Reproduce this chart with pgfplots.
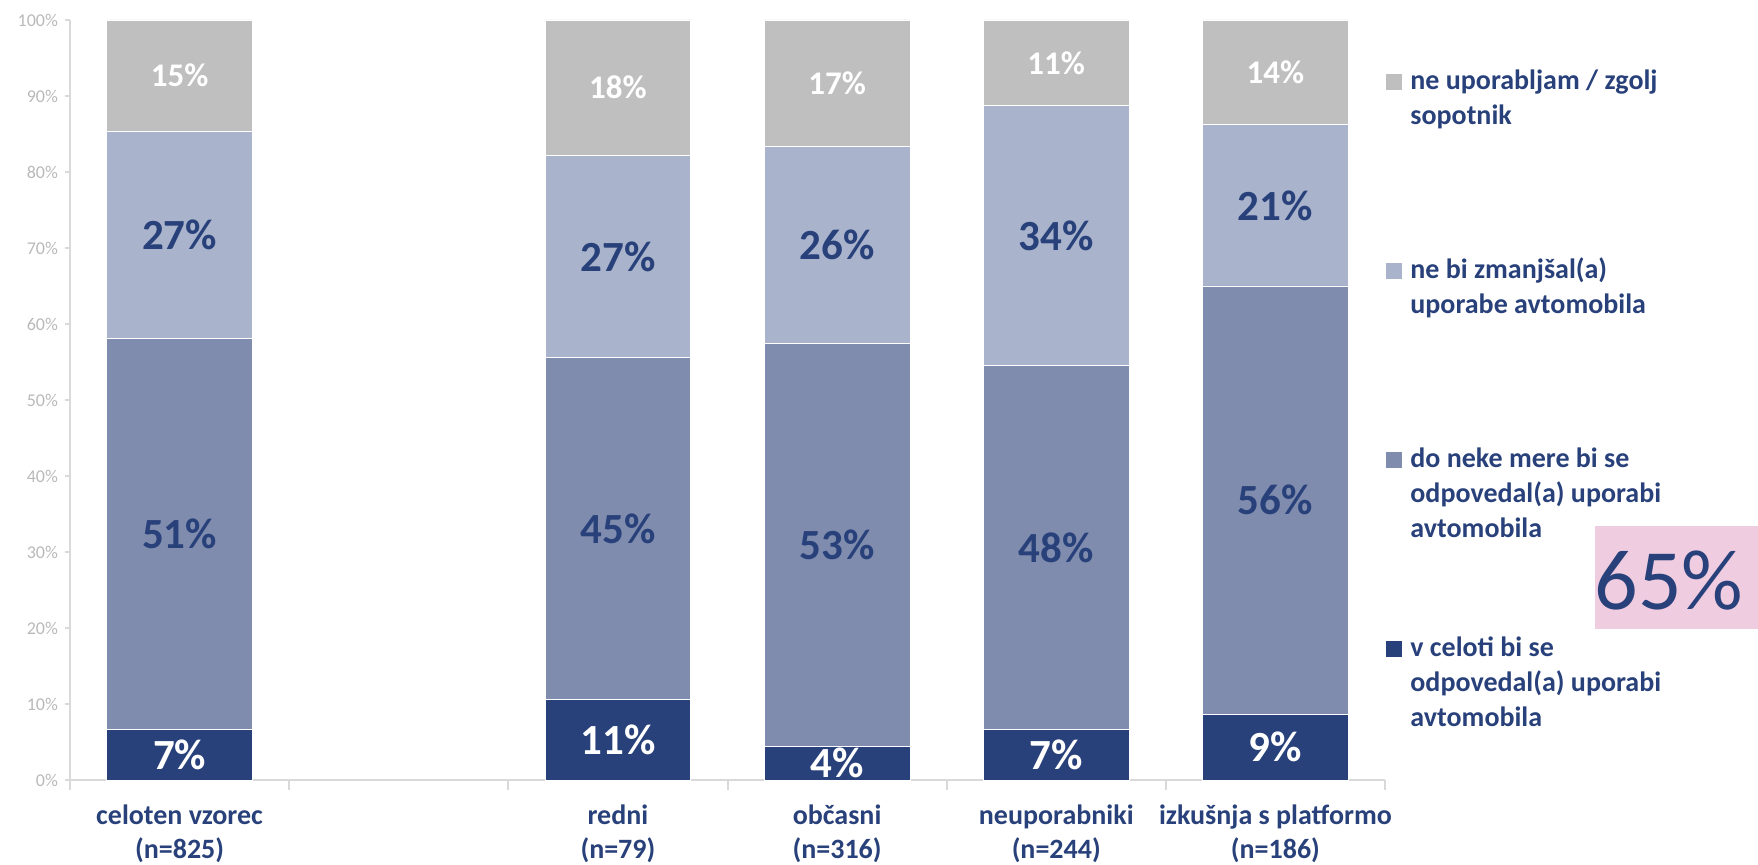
\documentclass[border=0pt]{standalone}
\usepackage{fontspec}
\setmainfont{Carlito}
\usepackage{pgfplots}
\usepackage{pgfplotstable}
\pgfplotsset{compat=1.18}

\definecolor{navy}{RGB}{41,65,122}
\definecolor{midblue}{RGB}{127,140,174}
\definecolor{lightblue}{RGB}{169,179,204}
\definecolor{greyseg}{RGB}{191,191,191}
\definecolor{txtblue}{RGB}{41,65,122}
\definecolor{axisgrey}{RGB}{217,217,217}
\definecolor{tickgrey}{RGB}{185,185,185}
\definecolor{pinkbox}{RGB}{240,204,225}

% percentage labels in the middle of each stacked segment
\pgfplotsset{
  centered labels/.style={
    nodes near coords={\pgfmathprintnumber[fixed,precision=0]{\pgfplotspointmeta}\%},
    every node near coord/.append style={anchor=center, inner sep=0pt},
  },
}

% shares per group, in %
\pgfplotstableread{
x  dark  mid   light grey
0  6.7   51.4  27.3  14.6
2  10.6  45.0  26.6  17.8
3  4.4   53.0  26.0  16.6
4  6.6   47.9  34.2  11.3
5  8.6   56.4  21.2  13.8
}\shares

\begin{document}
\begin{tikzpicture}
\path[use as bounding box] (0,0) rectangle (879bp,432.5bp);
\begin{axis}[
  at={(35bp,42.5bp)}, anchor=south west,
  scale only axis, width=657.5bp, height=380bp,
  ybar stacked, bar width=0.665,
  xmin=-0.5, xmax=5.5, ymin=0, ymax=100,
  axis lines*=left,
  axis line style={axisgrey, line width=1bp},
  tick align=outside,
  tick style={axisgrey, line width=1bp},
  major tick length=2.5bp, minor tick length=5bp,
  xtick={0,2,3,4,5},
  xticklabels={{\strut celoten vzorec\\(n=825)},{\strut redni\\(n=79)},{\strut občasni\\(n=316)},{\strut neuporabniki\\(n=244)},{\strut izkušnja s platformo\\(n=186)}},
  major x tick style={draw=none},
  minor xtick={-0.5,0.5,1.5,2.5,3.5,4.5,5.5},
  ytick={0,10,...,100},
  yticklabel={\pgfmathprintnumber{\tick}\%},
  /pgf/number format/assume math mode=true,
  yticklabel style={font=\fontsize{9bp}{10bp}\selectfont, text=tickgrey},
  xticklabel style={font=\fontsize{14bp}{17bp}\selectfont\bfseries, text=txtblue, align=center, yshift=-4.5bp},
  clip=false,
]
\addplot[fill=navy, draw=white, line width=0.4bp, centered labels,
  every node near coord/.append style={text=white, font=\fontsize{21.5bp}{24bp}\selectfont\bfseries}]
  table[x=x, y=dark]{\shares};
\addplot[fill=midblue, draw=white, line width=0.4bp, centered labels,
  every node near coord/.append style={text=txtblue, font=\fontsize{21.5bp}{24bp}\selectfont\bfseries}]
  table[x=x, y=mid]{\shares};
\addplot[fill=lightblue, draw=white, line width=0.4bp, centered labels,
  every node near coord/.append style={text=txtblue, font=\fontsize{21.5bp}{24bp}\selectfont\bfseries}]
  table[x=x, y=light]{\shares};
\addplot[fill=greyseg, draw=white, line width=0.4bp, centered labels,
  every node near coord/.append style={text=white, font=\fontsize{16.5bp}{19bp}\selectfont\bfseries}]
  table[x=x, y=grey]{\shares};
\end{axis}

% legend
\tikzset{legtext/.style={anchor=base west, inner sep=0pt, text=txtblue,
  font=\fontsize{14bp}{17bp}\selectfont\bfseries}}
\fill[greyseg] (693bp,387.5bp) rectangle ++(8bp,8bp);
\node[legtext] at (705bp,387.5bp) {ne uporabljam / zgolj};
\node[legtext] at (705bp,370bp) {sopotnik};
\fill[lightblue] (693bp,293bp) rectangle ++(8bp,8bp);
\node[legtext] at (705bp,293bp) {ne bi zmanjšal(a)};
\node[legtext] at (705bp,275.5bp) {uporabe avtomobila};
\fill[midblue] (693bp,198.5bp) rectangle ++(8bp,8bp);
\node[legtext] at (705bp,198.5bp) {do neke mere bi se};
\node[legtext] at (705bp,181bp) {odpovedal(a) uporabi};
\node[legtext] at (705bp,163.5bp) {avtomobila};
\fill[navy] (693bp,104bp) rectangle ++(8bp,8bp);
\node[legtext] at (705bp,104bp) {v celoti bi se};
\node[legtext] at (705bp,86.5bp) {odpovedal(a) uporabi};
\node[legtext] at (705bp,69bp) {avtomobila};

% highlighted total
\fill[pinkbox] (797.5bp,118bp) rectangle (879bp,169.5bp);
\node[anchor=base, inner sep=0pt, text=txtblue, font=\fontsize{43bp}{50bp}\selectfont]
  at (834.5bp,127.5bp) {65\%};
\end{tikzpicture}
\end{document}
